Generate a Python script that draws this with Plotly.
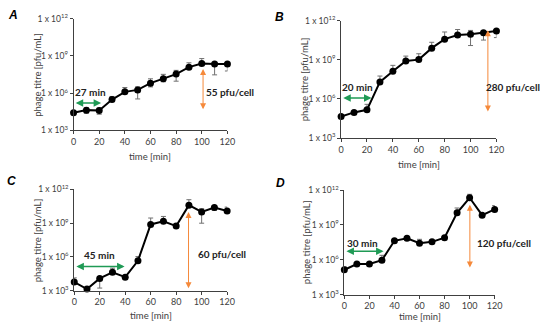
import plotly.graph_objects as go

time_min = [0, 10, 20, 30, 40, 50, 60, 70, 80, 90, 100, 110, 120]

# log10 phage titre (pfu/mL)
log_titre_A = [4.42, 4.63, 4.60, 5.48, 6.10, 6.26, 6.80, 7.16, 7.53, 8.09, 8.38, 8.35, 8.35]
err_up_A = [0.12, 0.20, 0.20, 0.25, 0.35, 0.25, 0.35, 0.35, 0.30, 0.35, 0.40, 0.10, 0.08]
err_dn_A = [0.12, 0.25, 0.30, 0.10, 0.10, 0.73, 0.30, 0.25, 0.57, 0.10, 0.10, 0.88, 0.57]

log_titre_B = [4.65, 4.97, 5.17, 7.31, 8.13, 8.92, 9.02, 9.90, 10.59, 10.91, 10.96, 11.09, 11.21]
err_up_B = [0.10, 0.10, 0.42, 0.45, 0.45, 0.37, 0.45, 0.45, 0.55, 0.42, 0.30, 0.12, 0.12]
err_dn_B = [0.10, 0.10, 0.10, 0.10, 0.10, 0.10, 0.10, 0.10, 0.10, 0.10, 0.86, 0.57, 0.50]

log_titre_C = [3.77, 3.14, 4.09, 4.63, 4.20, 5.66, 8.89, 9.17, 8.74, 10.60, 10.00, 10.40, 10.09]
err_up_C = [0.37, 0.10, 0.14, 0.37, 0.10, 0.37, 0.57, 0.43, 0.23, 0.49, 0.29, 0.17, 0.34]
err_dn_C = [0.10, 0.10, 0.86, 0.10, 0.10, 0.10, 0.10, 0.10, 0.10, 0.10, 1.00, 0.26, 0.10]

log_titre_D = [5.13, 5.63, 5.63, 5.96, 7.63, 7.85, 7.43, 7.54, 7.90, 10.04, 11.34, 9.84, 10.34]
err_up_D = [0.25, 0.10, 0.10, 0.42, 0.10, 0.12, 0.33, 0.10, 0.10, 0.42, 0.30, 0.05, 0.33]
err_dn_D = [0.05, 0.05, 0.05, 0.05, 0.05, 0.05, 0.05, 0.05, 0.05, 0.05, 0.05, 0.05, 0.05]

y_tickvals = [1e3, 1e6, 1e9, 1e12]
y_ticktext = ["1 x 10<sup>3</sup>", "1 x 10<sup>6</sup>", "1 x 10<sup>9</sup>", "1 x 10<sup>12</sup>"]
x_tickvals = [0, 20, 40, 60, 80, 100, 120]

panel_letters = ["A", "B", "C", "D"]
latency_labels = ["27 min", "20 min", "45 min", "30 min"]
burst_labels = ["55 pfu/cell", "280 pfu/cell", "60 pfu/cell", "120 pfu/cell"]

panels = [
    (log_titre_A, err_up_A, err_dn_A),
    (log_titre_B, err_up_B, err_dn_B),
    (log_titre_C, err_up_C, err_dn_C),
    (log_titre_D, err_up_D, err_dn_D),
]

# layout (pixels -> paper)
W, H = 550, 332
boxes = [  # x0, x1, ytop, ybottom in px
    (72, 229, 12, 128),
    (345, 503.5, 14.3, 136),
    (72.7, 228.7, 189.3, 294.3),
    (348.3, 501.7, 190, 298.3),
]
# arrow geometry: green (x0, x1, y, text x, text y), orange (x, y_top, y_bot, text x, text y)
green = [
    (0.5, 21.5, 5.2, 13.5, 6.05),
    (0.5, 23.5, 6.08, 13, 6.94),
    (0.5, 39.5, 5.14, 19.7, 6.17),
    (0.5, 31.3, 6.74, 14.3, 7.43),
]
orange = [
    (101, 7.94, 4.58, 122, 6.05),
    (113.4, 11.28, 4.92, 133, 6.9),
    (89.7, 10.0, 3.09, 116, 6.23),
    (100.2, 10.73, 5.19, 127.8, 7.46),
]
letter_pos = [(10, 8), (282, 10), (9, 181), (283, 183)]
ytitle_x = [35, 308, 35, 310]
xtitle_y = [155, 163, 320, 321]

FONT = "Lato, Liberation Sans, sans-serif"
AXCOL = "#404040"

fig = go.Figure()
annotations = []
for i, ((lt, eu, ed), (x0, x1, yt, yb)) in enumerate(zip(panels, boxes)):
    sfx = "" if i == 0 else str(i + 1)
    y = [10 ** v for v in lt]
    up = [10 ** (v + e) - 10 ** v for v, e in zip(lt, eu)]
    dn = [10 ** v - 10 ** (v - e) for v, e in zip(lt, ed)]
    fig.add_trace(go.Scatter(
        x=time_min, y=y, mode="lines+markers",
        line=dict(color="black", width=2),
        marker=dict(color="black", size=7),
        error_y=dict(type="data", symmetric=False, array=up, arrayminus=dn,
                     color="#707070", thickness=1, width=2.5),
        xaxis="x" + sfx, yaxis="y" + sfx, showlegend=False, cliponaxis=False,
    ))
    fig.update_layout(**{
        "xaxis" + sfx: dict(
            domain=[x0 / W, x1 / W], range=[0, 120], anchor="y" + sfx,
            tickvals=x_tickvals, showgrid=False, zeroline=False,
            showline=True, linecolor=AXCOL, linewidth=1,
            ticks="outside", ticklen=3, tickcolor=AXCOL,
            tickfont=dict(size=9, color="#404040", family=FONT),
        ),
        "yaxis" + sfx: dict(
            domain=[1 - yb / H, 1 - yt / H], type="log", range=[3, 12], anchor="x" + sfx,
            tickvals=y_tickvals, ticktext=y_ticktext, showgrid=False, zeroline=False,
            showline=True, linecolor=AXCOL, linewidth=1,
            ticks="outside", ticklen=3, tickcolor=AXCOL,
            tickfont=dict(size=8.5, color="#404040", family=FONT),
        ),
    })
    xr, yr = "x" + sfx, "y" + sfx
    xd = xr + " domain"
    gx0, gx1, gy, gtx, gty = green[i]
    annotations.append(dict(x=gx1, y=gy, ax=gx0, ay=gy, xref=xr, yref=yr, axref=xr, ayref=yr,
                            text="", showarrow=True, arrowhead=2, startarrowhead=2,
                            arrowside="end+start", arrowsize=1, startarrowsize=1, arrowwidth=1.5,
                            arrowcolor="#1f9a55"))
    annotations.append(dict(x=gtx / 120, y=gty, xref=xd, yref=yr, text="<b>%s</b>" % latency_labels[i],
                            xanchor="center", yanchor="middle",
                            showarrow=False, font=dict(size=10, color="#222", family=FONT)))
    ox, oyt, oyb, otx, oty = orange[i]
    annotations.append(dict(x=ox, y=oyt, ax=ox, ay=oyb, xref=xr, yref=yr, axref=xr, ayref=yr,
                            text="", showarrow=True, arrowhead=2, startarrowhead=2,
                            arrowside="end+start", arrowsize=1.2, startarrowsize=1.2, arrowwidth=1,
                            arrowcolor="#f5893a"))
    annotations.append(dict(x=otx / 120, y=oty, xref=xd, yref=yr, text="<b>%s</b>" % burst_labels[i],
                            xanchor="center", yanchor="middle",
                            showarrow=False, font=dict(size=10, color="#222", family=FONT)))
    lx, ly = letter_pos[i]
    annotations.append(dict(x=lx / W, y=1 - ly / H, xref="paper", yref="paper",
                            text="<b><i>%s</i></b>" % panel_letters[i], showarrow=False,
                            xanchor="center", yanchor="middle",
                            font=dict(size=12, color="black", family="Liberation Sans, sans-serif")))
    annotations.append(dict(x=ytitle_x[i] / W, y=1 - (yt + yb) / 2 / H, xref="paper", yref="paper",
                            text="phage titre [pfu/mL]", textangle=-90, showarrow=False,
                            xanchor="center", yanchor="middle",
                            font=dict(size=9.5, color="#404040", family=FONT)))
    annotations.append(dict(x=(x0 + x1) / 2 / W, y=1 - xtitle_y[i] / H, xref="paper", yref="paper",
                            text="time [min]", showarrow=False, xanchor="center", yanchor="middle",
                            font=dict(size=9.5, color="#404040", family=FONT)))

fig.update_layout(
    width=W, height=H, margin=dict(l=0, r=0, t=0, b=0),
    paper_bgcolor="white", plot_bgcolor="white",
    annotations=annotations, font=dict(family=FONT),
)
fig.write_html("out.html", config={"displayModeBar": False},
               post_script="document.body.style.margin='0px';")
